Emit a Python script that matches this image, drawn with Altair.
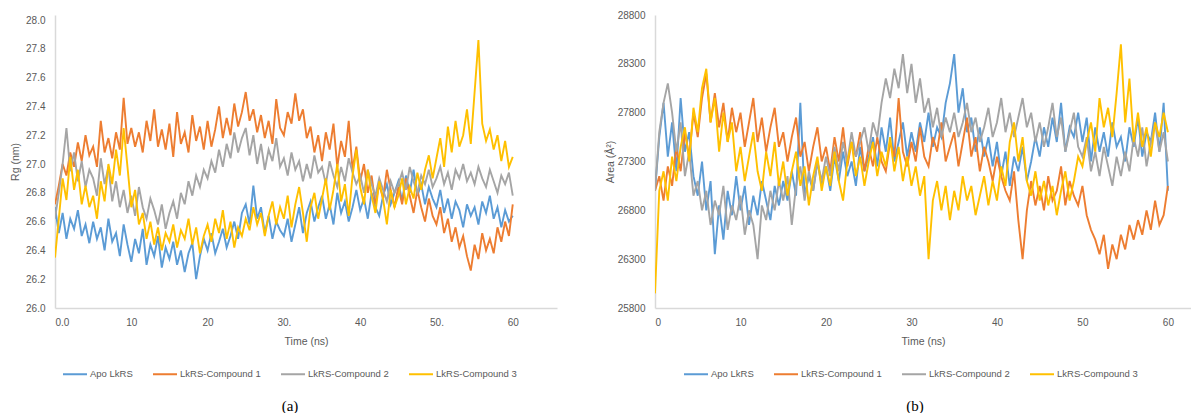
import altair as alt
import pandas as pd

series_names = ["Apo LkRS", "LkRS-Compound 1", "LkRS-Compound 2", "LkRS-Compound 3"]
colors = ["#5B9BD5", "#ED7D31", "#A5A5A5", "#FFC000"]

# time points (ns), every 0.5 ns from 0 to 60
time_ns = [i * 0.5 for i in range(121)]

# ---- (a) Radius of gyration (nm) ----
rg_apo = [
    26.70, 26.52, 26.66, 26.48, 26.62, 26.55, 26.68, 26.50, 26.58, 26.45,
    26.60, 26.48, 26.56, 26.40, 26.62, 26.46, 26.52, 26.36, 26.58, 26.44,
    26.32, 26.48, 26.38, 26.55, 26.30, 26.44, 26.36, 26.50, 26.28, 26.42,
    26.34, 26.46, 26.30, 26.40, 26.25, 26.38, 26.45, 26.20, 26.36, 26.48,
    26.40, 26.52, 26.38, 26.46, 26.55, 26.42, 26.50, 26.60, 26.48, 26.66,
    26.72, 26.58, 26.85, 26.62, 26.70, 26.52, 26.64, 26.48, 26.60, 26.54,
    26.50, 26.62, 26.46, 26.58, 26.70, 26.52, 26.66, 26.74, 26.60, 26.70,
    26.78, 26.62, 26.72, 26.58, 26.80, 26.66, 26.74, 26.60, 26.70, 26.82,
    26.68, 26.76, 26.62, 26.80, 26.70, 26.64, 26.78, 26.86, 26.72, 26.80,
    26.88, 26.74, 26.92, 26.80, 26.96, 26.78, 26.86, 26.72, 26.84, 26.76,
    26.70, 26.82, 26.66, 26.76, 26.62, 26.74, 26.68, 26.56, 26.72, 26.64,
    26.70, 26.58, 26.74, 26.66, 26.78, 26.62, 26.70, 26.56, 26.68, 26.60,
    26.64,
]
rg_c1 = [
    26.72, 26.85, 27.00, 26.92, 27.08, 26.98, 27.15, 27.02, 27.20, 27.06,
    27.12, 26.98, 27.30, 27.08, 27.18, 27.04, 27.22, 27.10, 27.46, 27.14,
    27.25, 27.12, 27.22, 27.08, 27.30, 27.16, 27.38, 27.12, 27.24, 27.10,
    27.28, 27.05, 27.36, 27.14, 27.22, 27.08, 27.34, 27.16, 27.26, 27.10,
    27.30, 27.12, 27.24, 27.40, 27.18, 27.32, 27.20, 27.42, 27.26, 27.36,
    27.50, 27.30, 27.38, 27.22, 27.34, 27.18, 27.30, 27.14, 27.45, 27.25,
    27.20, 27.36, 27.28, 27.49, 27.30, 27.38, 27.18, 27.26, 27.08, 27.20,
    27.02, 27.22, 27.10, 27.28, 26.98, 27.16, 27.05, 27.30, 26.96, 27.12,
    26.88, 27.00, 26.80, 26.92, 26.72, 26.86, 26.76, 26.96, 26.82, 26.70,
    26.84, 26.72, 26.90, 26.78, 26.66, 26.82, 26.70, 26.60, 26.76, 26.64,
    26.58, 26.70, 26.52, 26.62, 26.46, 26.56, 26.42, 26.50, 26.36, 26.26,
    26.44, 26.34, 26.52, 26.40, 26.48, 26.38, 26.56, 26.46, 26.60, 26.50,
    26.72,
]
rg_c2 = [
    26.62, 26.80, 27.00, 27.25, 26.95, 27.08, 26.88, 27.02, 26.84, 26.96,
    26.90, 26.78, 27.04, 26.86, 26.98, 26.74, 26.88, 26.70, 26.82, 26.66,
    26.78, 26.64, 26.84, 26.70, 26.62, 26.76, 26.68, 26.58, 26.72, 26.55,
    26.66, 26.74, 26.62, 26.80, 26.72, 26.88, 26.78, 26.92, 26.84, 26.96,
    26.90, 27.02, 26.94, 27.10, 26.98, 27.14, 27.04, 27.22, 27.08, 27.18,
    27.25, 27.06, 27.20, 27.00, 27.14, 26.96, 27.10, 27.02, 27.18, 26.98,
    27.04, 26.92, 27.08, 26.96, 27.02, 26.88, 27.00, 26.90, 27.06, 26.94,
    26.98, 26.86, 27.02, 26.92, 26.84, 26.98, 26.88, 27.04, 26.94, 26.86,
    26.92, 26.80, 26.96, 26.86, 26.78, 26.90, 26.82, 26.74, 26.88, 26.80,
    26.86, 26.94, 26.82, 26.98, 26.88, 26.80, 26.92, 26.86, 26.96, 26.84,
    26.90, 26.98, 26.86, 26.94, 26.82, 26.96, 26.90, 27.00, 26.88, 26.94,
    26.86, 26.98, 26.90, 26.84, 26.96, 26.88, 26.80, 26.92, 26.86, 26.94,
    26.78,
]
rg_c3 = [
    26.35, 26.62, 26.90, 26.75, 27.05, 26.82, 26.96, 26.72, 26.85, 26.70,
    26.78, 26.62, 26.88, 26.74, 27.00, 26.86, 27.10, 26.92, 27.25, 26.98,
    26.70, 26.82, 26.58, 26.66, 26.48, 26.60, 26.44, 26.56, 26.40, 26.52,
    26.46, 26.58, 26.42, 26.54, 26.48, 26.62, 26.44, 26.56, 26.38, 26.50,
    26.58, 26.46, 26.62, 26.52, 26.68, 26.48, 26.60, 26.42, 26.56, 26.50,
    26.62, 26.54, 26.70, 26.58, 26.66, 26.50, 26.64, 26.74, 26.58, 26.70,
    26.62, 26.78, 26.56, 26.72, 26.84, 26.66, 26.46, 26.70, 26.80, 26.62,
    26.76, 26.90, 26.68, 26.82, 27.00, 26.74, 26.86, 26.64, 26.92, 27.10,
    26.84, 26.72, 26.96, 26.78, 26.66, 26.88, 26.76, 26.58, 26.82, 26.70,
    26.78, 26.90, 26.72, 26.84, 26.76, 26.94, 26.82, 26.96, 27.06, 26.90,
    27.04, 27.18, 26.98, 27.26, 27.08, 27.30, 27.12, 27.20, 27.38, 27.14,
    27.50, 27.86, 27.28, 27.16, 27.24, 27.10, 27.20, 27.02, 27.16, 26.98,
    27.05,
]

# ---- (b) Surface area (Å²) ----
area_apo = [
    27000, 27550, 27900, 27350, 27700, 27200, 27950, 27400, 27600, 27150,
    26950, 27300, 26800, 27100, 26350, 26850, 26500, 27000, 26750, 27150,
    26800, 27050, 26650, 26950, 26750, 27100, 26900, 26700, 27050, 26850,
    27100, 26900, 27200, 26950, 27900, 26950, 27150, 27000, 27300, 27050,
    27250, 27000, 27350, 27100, 27400, 27150, 27300, 27050, 27450, 27200,
    27350, 27550, 27250, 27650, 27400, 27750, 27300, 27500, 27700, 27350,
    27600, 27400, 27700, 27500, 27800, 27450, 27650, 27550, 27900, 28100,
    28400, 27800, 28050, 27600, 27750, 27400, 27650, 27350, 27550, 27250,
    27500, 27150, 27400, 27050, 27350, 27200, 27450, 27100, 27300, 27550,
    27350, 27650, 27450, 27750, 27500, 27900, 27400, 27650, 27550, 27800,
    27500, 27750, 27300, 27650, 27400, 27600, 27350, 27700, 27450, 27550,
    27300, 27650, 27450, 27750, 27350, 27600, 27500, 27800, 27400, 27900,
    27000,
]
area_c1 = [
    27000, 27150, 26900, 27250, 27050, 27450, 27200, 27600, 27350, 27800,
    27550, 27950, 28200, 27700, 28000, 27650, 27900, 27500, 27850, 27600,
    27800, 27450, 27700, 27950, 27500, 27750, 27400, 27650, 27850, 27450,
    27600, 27300, 27550, 27750, 27350, 27500, 27200, 27450, 27650, 27300,
    27450, 27200, 27550, 27300, 27650, 27250, 27500, 27350, 27600, 27200,
    27450, 27250, 27550, 27300, 27200, 27500, 27350, 27950, 27400, 27250,
    27500, 27300, 27650, 27350, 27250, 27550, 27400, 27700, 27300, 27450,
    27600, 27250, 27500, 27750, 27350, 27550, 27200, 27450, 27300, 27100,
    27350, 27150, 27000, 26900, 27200, 26700, 26300, 26800, 27100, 26850,
    27050, 26800, 27150, 26900, 27000, 27250, 26850, 27100, 26950, 26850,
    27050, 26750, 26600, 26500, 26350, 26550, 26200, 26450, 26300, 26550,
    26400, 26650, 26500, 26700, 26550, 26800, 26600, 26900, 26650, 26750,
    27050,
]
area_c2 = [
    27000, 27600, 27900, 28100, 27800, 27400, 27700, 27150, 27400, 26950,
    27100, 26800, 27000, 26650, 26900, 26750, 27050, 26600, 26850, 26700,
    26950, 26550, 26800, 26650, 26300, 26850, 26700, 27000, 26800, 27100,
    26900, 27150, 26650, 27050, 27250, 26900, 27200, 27000, 27300, 27100,
    27350, 27150, 27450, 27200, 27500, 27300, 27600, 27350, 27500, 27650,
    27400, 27700, 27550, 27900, 28150, 27950, 28250, 28050, 28400, 28000,
    28300, 27900, 28150, 27800, 27950, 27650, 27850, 27550, 27750, 27600,
    27800, 27550, 27700, 27900, 27600, 27750, 27500, 27650, 27850, 27550,
    27700, 27950, 27600, 27800, 27550, 27750, 27950, 27650, 27800, 27500,
    27700, 27450, 27650, 27900, 27550, 27750, 27400, 27600, 27800, 27450,
    27350, 27550, 27200, 27400, 27150, 27450, 27250, 27050, 27350, 27150,
    27400, 27200, 27550, 27350, 27650, 27250, 27500, 27700, 27400, 27600,
    27300,
]
area_c3 = [
    25950, 27000, 27200, 26900, 27350, 27100, 27450, 27650, 27300, 27850,
    27600, 28050, 28250, 27700, 27950, 27400, 27800, 27500, 27700, 27200,
    27450, 27100, 27350, 27600, 27200, 27000, 27400, 27150, 27500, 27050,
    27300, 26950, 27200, 27400, 27050, 27250, 26850, 27150, 27350, 27000,
    27250, 27050, 27400, 27100, 26900, 27300, 27500, 27150, 27350, 27050,
    27300, 27500, 27150, 27400, 27250, 27550, 27200, 27450, 27100, 27350,
    27050, 27250, 26950, 27150, 26300, 26900, 27100, 26800, 27050, 26700,
    27000, 26800, 27150, 26900, 27050, 26750, 26950, 27150, 26850, 27100,
    26900, 27250, 27050, 27500, 27700, 27300, 27550, 27100, 26950, 27200,
    26900, 27100, 26850, 27050, 26750, 27000, 27200, 26900, 27100, 27350,
    27250, 27500, 27700, 27400, 27950, 27650, 27850, 27550, 28000, 28500,
    27700, 28150, 27500, 27800, 27450, 27650, 27350, 27700, 27550, 27800,
    27600,
]

# axis ticks / labels
xa_ticks = [0, 10, 20, 30, 40, 50, 60]
xa_labels = ["0.0", "10", "20", "30.", "40", "50.", "60"]
xb_labels = ["0", "10", "20", "30", "40", "50", "60"]
ya_ticks = [26.0, 26.2, 26.4, 26.6, 26.8, 27.0, 27.2, 27.4, 27.6, 27.8, 28.0]
yb_ticks = [25800, 26300, 26800, 27300, 27800, 28300, 28800]


def long_df(cols):
    rows = []
    for name, vals in zip(series_names, cols):
        for t, v in zip(time_ns, vals):
            rows.append({"time": t, "value": v, "series": name})
    return pd.DataFrame(rows)


df_a = long_df([rg_apo, rg_c1, rg_c2, rg_c3])
df_b = long_df([area_apo, area_c1, area_c2, area_c3])


def label_expr(ticks, labels):
    parts = " : ".join(f"datum.value == {t} ? '{l}'" for t, l in zip(ticks, labels))
    return parts + " : datum.label"


color_scale = alt.Scale(domain=series_names, range=colors)

H = 293


def panel(df, xdom, width, xlabels, ydom, yticks, yfmt, ytitle, ylp, ytp, legx, caption, capx):
    lines = alt.Chart(df).mark_line(strokeWidth=1.9, clip=True).encode(
        x=alt.X("time:Q",
                scale=alt.Scale(domain=xdom, nice=False, zero=False),
                axis=alt.Axis(values=xa_ticks, labelExpr=label_expr(xa_ticks, xlabels),
                              title="Time (ns)", labelPadding=9, titlePadding=9)),
        y=alt.Y("value:Q",
                scale=alt.Scale(domain=ydom, nice=False, zero=False),
                axis=alt.Axis(values=yticks, format=yfmt, title=ytitle,
                              labelPadding=ylp, titlePadding=ytp)),
        color=alt.Color("series:N", scale=color_scale,
                        legend=alt.Legend(orient="none", legendX=legx, legendY=346,
                                          direction="horizontal", title=None,
                                          symbolType="stroke", symbolSize=576,
                                          symbolStrokeWidth=2, labelOffset=2,
                                          columnPadding=16, padding=0,
                                          labelFont="Liberation Sans", labelFontSize=9.5,
                                          labelColor="#595959")),
    )
    cap = alt.Chart(pd.DataFrame({"t": [caption]})).mark_text(
        font="Liberation Serif", fontSize=15, color="#000000"
    ).encode(x=alt.value(capx), y=alt.value(391), text="t:N")
    return alt.layer(lines, cap).properties(width=width, height=H)


left = panel(df_a, [0, 65.8], 502, xa_labels, [26.0, 26.0 + H / 144.0], ya_ticks, ".1f",
             "Rg (nm)", 10, 5, 7, "(a)", 235)
right = panel(df_b, [0, 62.7], 536, xb_labels, [28800 - H * 3000 / 293.0, 28800], yb_ticks, "d",
              "Area (Å²)", 10, 2, 28, "(b)", 260)

chart = alt.hconcat(left, right, spacing=48).resolve_legend(color="independent").properties(
    padding={"left": 2, "top": 2, "right": 0, "bottom": 0}
).configure_view(stroke=None).configure_axis(
    grid=False, ticks=False, domainColor="#d9d9d9", domainWidth=1.5,
    labelColor="#595959", titleColor="#595959",
    labelFont="Liberation Sans", titleFont="Liberation Sans",
    labelFontSize=10, titleFontSize=10.5, titleFontWeight="normal",
)

chart.save("out.html", embed_options={"renderer": "svg", "actions": False})
